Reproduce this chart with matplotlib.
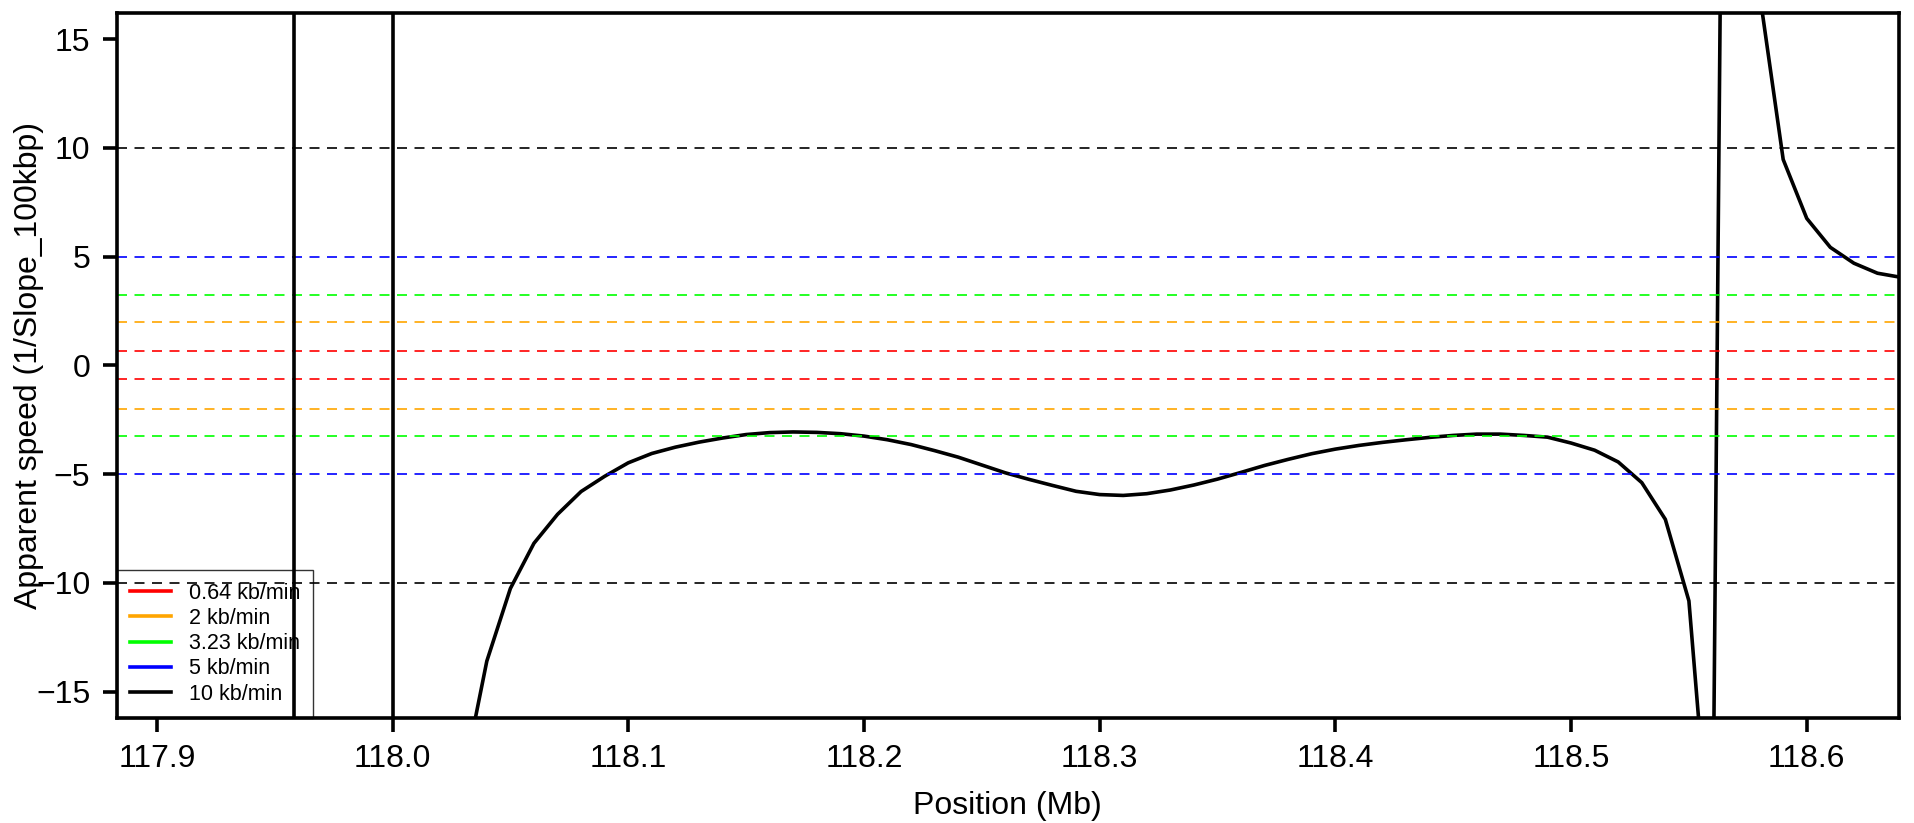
import matplotlib
matplotlib.use('Agg')
import matplotlib.pyplot as plt
from matplotlib.lines import Line2D

plt.rcParams['font.family'] = ['Liberation Sans', 'DejaVu Sans']

# curve, position (Mb) vs apparent speed
position = [118.02, 118.03, 118.04, 118.05, 118.06, 118.07, 118.08, 118.09,
            118.10, 118.11, 118.12, 118.13, 118.14, 118.15, 118.16, 118.17,
            118.18, 118.19, 118.20, 118.21, 118.22, 118.23, 118.24, 118.25,
            118.26, 118.27, 118.28, 118.29, 118.30, 118.31, 118.32, 118.33,
            118.34, 118.35, 118.36, 118.37, 118.38, 118.39, 118.40, 118.41,
            118.42, 118.43, 118.44, 118.45, 118.46, 118.47, 118.48, 118.49,
            118.50, 118.51, 118.52, 118.53, 118.54, 118.55, 118.56, 118.57,
            118.58, 118.59, 118.60, 118.61, 118.62, 118.63, 118.64]
speed = [-30, -19, -13.6, -10.26, -8.18, -6.85, -5.8, -5.1,
         -4.48, -4.05, -3.76, -3.53, -3.34, -3.18, -3.09, -3.06,
         -3.08, -3.14, -3.25, -3.42, -3.64, -3.92, -4.22, -4.58,
         -4.94, -5.24, -5.52, -5.79, -5.94, -5.98, -5.90, -5.73,
         -5.50, -5.23, -4.92, -4.60, -4.32, -4.06, -3.85, -3.68,
         -3.54, -3.42, -3.31, -3.22, -3.16, -3.16, -3.22, -3.30,
         -3.57, -3.90, -4.44, -5.39, -7.08, -10.83, -24, 100,
         17.1, 9.47, 6.76, 5.43, 4.70, 4.24, 4.05]

# reference speeds
speed_labels = ['0.64 kb/min', '2 kb/min', '3.23 kb/min', '5 kb/min', '10 kb/min']
speed_levels = [0.64, 2, 3.23, 5, 10]
speed_colors = ['#FF0000', '#FFA500', '#00FF00', '#0000FF', '#000000']

vlines = [117.9584, 118.0]

xticks = [117.9, 118.0, 118.1, 118.2, 118.3, 118.4, 118.5, 118.6]
yticks = [-15, -10, -5, 0, 5, 10, 15]

fig = plt.figure(figsize=(19.14, 8.23), dpi=100)
ax = fig.add_axes([0.061, 0.128, 0.931, 0.856])

ax.plot(position, speed, color='black', lw=2.6)

for lev, col in zip(speed_levels, speed_colors):
    ax.axhline(lev, color=col, lw=1.2, dashes=(6, 4.5))
    ax.axhline(-lev, color=col, lw=1.2, dashes=(6, 4.5))

for v in vlines:
    ax.axvline(v, color='black', lw=2.6)

ax.set_xlim(117.883, 118.639)
ax.set_ylim(-16.2, 16.2)
ax.set_xticks(xticks)
ax.set_xticklabels(['%.1f' % t for t in xticks])
ax.set_yticks(yticks)
ax.tick_params(axis='both', labelsize=23, width=2.6, length=10, pad=9)
for s in ax.spines.values():
    s.set_linewidth(2.6)

ax.set_xlabel('Position (Mb)', fontsize=23, labelpad=12)
ax.set_ylabel('Apparent speed (1/Slope_100kbp)', fontsize=23)
ax.yaxis.set_label_coords(-0.041, 0.5)

handles = [Line2D([], [], color=c, lw=2.6) for c in speed_colors]
leg = ax.legend(handles, speed_labels, loc='lower left', bbox_to_anchor=(0, 0),
                borderaxespad=0, fontsize=15.5, handlelength=1.9,
                handletextpad=0.85, borderpad=0.6, labelspacing=0.2,
                fancybox=False, facecolor='none', edgecolor='black')
leg.get_frame().set_linewidth(1.0)

fig.savefig('out.png', dpi=100)
